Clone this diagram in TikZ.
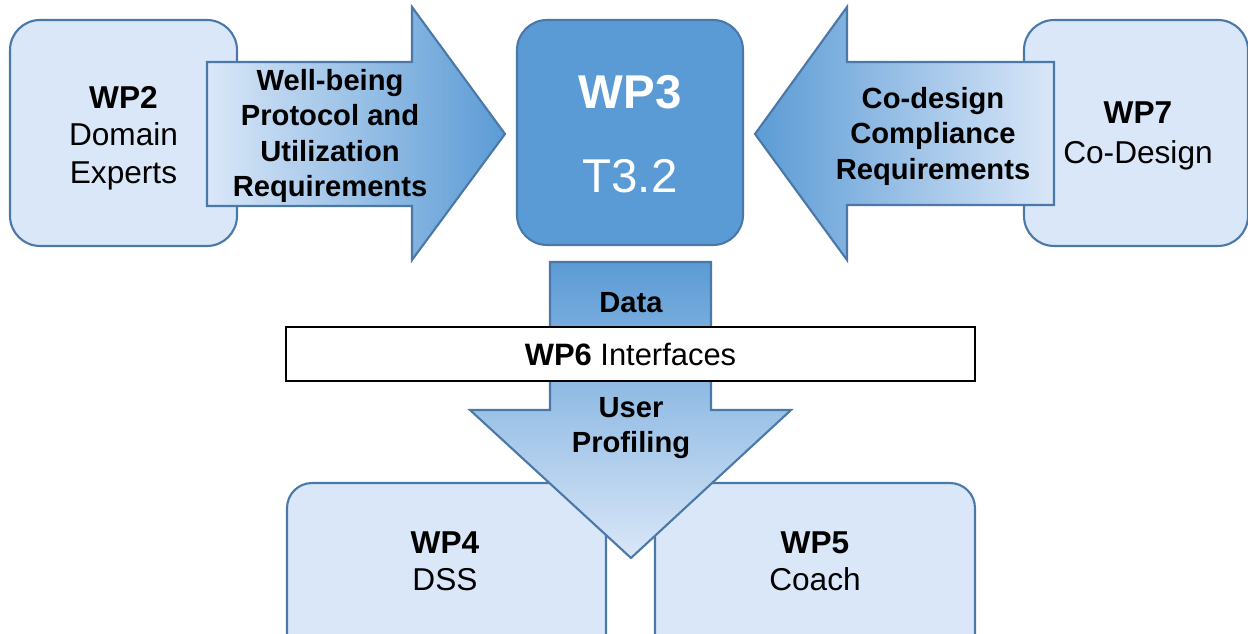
\documentclass[tikz,border=0pt]{standalone}
\usepackage{fontspec}
\setmainfont{Liberation Sans}
\definecolor{lightfill}{HTML}{DAE7F8}
\definecolor{midblue}{HTML}{5B9BD5}
\definecolor{edgeblue}{HTML}{4A78A8}
\definecolor{midshade}{HTML}{C2D8F3}
\begin{document}
\begin{tikzpicture}[x=0.02cm,y=-0.02cm,
  wpbox/.style={draw=edgeblue,line width=1.2pt,fill=lightfill,rounded corners=0.6cm,inner sep=0pt,outer sep=0pt},
  lowbox/.style={draw=edgeblue,line width=1.2pt,fill=lightfill,rounded corners=0.5cm,inner sep=0pt,outer sep=0pt},
  arrowshape/.style={draw=edgeblue,line width=1.2pt},
  boxtext/.style={align=center,inner sep=0pt,font=\fontsize{18}{21.3}\selectfont},
  arrowtext/.style={align=center,inner sep=0pt,font=\fontsize{16.6}{20.2}\selectfont\bfseries},
  bigtext/.style={inner sep=0pt,text=white,font=\fontsize{27}{32}\selectfont}
]
\clip (0,0) rectangle (1248,634);
\fill[white] (0,0) rectangle (1248,634);

% top left
\node[wpbox,minimum width=4.54cm,minimum height=4.52cm] (wp2) at (123.5,133) {};
\node[boxtext] (wp2t) at (123.5,138) {\textbf{WP2}\\Domain\\Experts};
\shade[arrowshape,left color=lightfill,middle color=midshade,right color=midblue]
  (207,62) -- (412,62) -- (412,7) -- (505,134) -- (412,260) -- (412,206) -- (207,206) -- cycle;
\node[arrowtext] (rlab) at (330,136) {Well-being\\Protocol and\\Utilization\\Requirements};

% top right
\node[wpbox,minimum width=4.48cm,minimum height=4.52cm] (wp7) at (1136,133) {};
\node[boxtext,font=\fontsize{18}{22.5}\selectfont] (wp7t) at (1138,136) {\textbf{WP7}\\Co-Design};
\shade[arrowshape,left color=midblue,middle color=midshade,right color=lightfill]
  (1054,62) -- (847,62) -- (847,7) -- (755,134) -- (847,260) -- (847,205) -- (1054,205) -- cycle;
\node[arrowtext] (llab) at (933,136) {Co-design\\Compliance\\Requirements};

% centre
\node[wpbox,fill=midblue,minimum width=4.52cm,minimum height=4.5cm] (wp3) at (630,132.5) {};
\node[bigtext,font=\fontsize{27}{32}\selectfont\bfseries] (wp3t) at (630,92) {WP3};
\node[bigtext] (t32) at (630,176) {T3.2};

% bottom boxes
\node[lowbox,minimum width=6.38cm,minimum height=3.6cm] (wp4) at (446.5,573) {};
\node[boxtext] (wp4t) at (445,561) {\textbf{WP4}\\DSS};
\node[lowbox,minimum width=6.4cm,minimum height=3.6cm] (wp5) at (815,573) {};
\node[boxtext] (wp5t) at (815,561) {\textbf{WP5}\\Coach};

% down arrow
\shade[arrowshape,top color=midblue,bottom color=lightfill]
  (550,262) -- (711,262) -- (711,410) -- (791,410) -- (631,558) -- (470,410) -- (550,410) -- cycle;
\node[arrowtext] (data) at (631,303) {Data};
\node[arrowtext] (uprof) at (631,428) {User\\Profiling};

% WP6 bar
\node[draw=black,line width=1.4pt,fill=white,minimum width=13.78cm,minimum height=1.08cm,inner sep=0pt,
  font=\fontsize{17.6}{21}\selectfont] (wp6) at (630.5,354) {\textbf{WP6} Interfaces};
\end{tikzpicture}
\end{document}
